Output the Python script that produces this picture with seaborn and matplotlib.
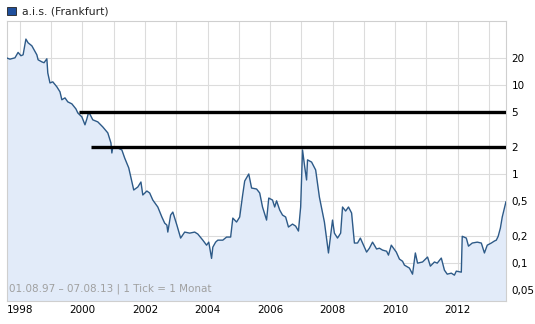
import numpy as np
import pandas as pd
import seaborn as sns
import matplotlib.pyplot as plt
from matplotlib.patches import Patch

dates = [1997.58, 1997.68, 1997.84, 1997.94, 1998.03, 1998.10, 1998.19, 1998.26, 1998.38, 1998.54,
         1998.58, 1998.70, 1998.77, 1998.86, 1998.89, 1998.96, 1999.05, 1999.18, 1999.28, 1999.34,
         1999.44, 1999.53, 1999.66, 1999.79, 1999.85, 1999.98, 2000.08, 2000.14, 2000.20, 2000.33,
         2000.49, 2000.65, 2000.81, 2000.91, 2000.94, 2000.97, 2001.13, 2001.26, 2001.35, 2001.48,
         2001.58, 2001.64, 2001.77, 2001.87, 2001.93, 2002.06, 2002.15, 2002.25, 2002.41, 2002.54,
         2002.63, 2002.70, 2002.73, 2002.82, 2002.89, 2003.02, 2003.14, 2003.27, 2003.43, 2003.59,
         2003.69, 2003.85, 2003.97, 2004.04, 2004.13, 2004.17, 2004.26, 2004.33, 2004.49, 2004.61,
         2004.74, 2004.81, 2004.93, 2005.03, 2005.12, 2005.19, 2005.32, 2005.41, 2005.57, 2005.67,
         2005.76, 2005.89, 2005.96, 2006.08, 2006.15, 2006.21, 2006.31, 2006.40, 2006.50, 2006.59,
         2006.72, 2006.82, 2006.91, 2006.98, 2007.04, 2007.11, 2007.17, 2007.20, 2007.33, 2007.46,
         2007.58, 2007.74, 2007.87, 2008.00, 2008.06, 2008.16, 2008.26, 2008.32, 2008.42, 2008.51,
         2008.61, 2008.70, 2008.80, 2008.89, 2008.96, 2009.09, 2009.18, 2009.28, 2009.41, 2009.50,
         2009.60, 2009.73, 2009.79, 2009.88, 2010.04, 2010.14, 2010.24, 2010.30, 2010.46, 2010.56,
         2010.65, 2010.72, 2010.88, 2011.04, 2011.13, 2011.26, 2011.35, 2011.48, 2011.58, 2011.67,
         2011.80, 2011.90, 2011.96, 2012.12, 2012.15, 2012.28, 2012.35, 2012.47, 2012.63, 2012.76,
         2012.86, 2012.95, 2013.08, 2013.18, 2013.24, 2013.30, 2013.37, 2013.43, 2013.55]
prices = [20.0, 19.4, 20.1, 23.1, 21.2, 21.7, 32.6, 29.6, 27.4, 21.7,
          19.1, 18.1, 17.7, 19.6, 13.6, 10.5, 10.8, 9.5, 8.35, 6.8,
          7.14, 6.44, 6.12, 5.37, 4.84, 4.37, 3.56, 4.15, 4.97, 4.05,
          3.84, 3.37, 2.89, 2.23, 1.72, 2.01, 1.96, 1.86, 1.51, 1.17,
          0.813, 0.661, 0.714, 0.813, 0.581, 0.644, 0.612, 0.510, 0.426, 0.329,
          0.281, 0.267, 0.223, 0.346, 0.374, 0.267, 0.191, 0.223, 0.217, 0.223,
          0.212, 0.181, 0.159, 0.172, 0.113, 0.151, 0.172, 0.181, 0.181, 0.196,
          0.196, 0.320, 0.289, 0.329, 0.566, 0.834, 1.0, 0.696, 0.678, 0.612,
          0.426, 0.304, 0.537, 0.510, 0.426, 0.5, 0.394, 0.346, 0.329, 0.254,
          0.274, 0.260, 0.229, 0.426, 1.86, 1.20, 0.857, 1.44, 1.36, 1.11,
          0.55, 0.289, 0.130, 0.304, 0.217, 0.191, 0.217, 0.426, 0.384, 0.426,
          0.365, 0.168, 0.168, 0.191, 0.168, 0.133, 0.147, 0.172, 0.144, 0.147,
          0.140, 0.136, 0.123, 0.159, 0.133, 0.111, 0.105, 0.095, 0.088, 0.0752,
          0.130, 0.100, 0.103, 0.117, 0.0925, 0.103, 0.100, 0.114, 0.0834, 0.0752,
          0.0772, 0.0733, 0.0813, 0.0792, 0.200, 0.191, 0.155, 0.168, 0.172, 0.168,
          0.130, 0.159, 0.168, 0.177, 0.181, 0.200, 0.247, 0.329, 0.49]

# horizontale Linien (Startjahr, Kursniveau)
level_starts = [1999.88, 2000.27]
level_values = [5, 2]

y_ticks = [0.05, 0.1, 0.2, 0.5, 1, 2, 5, 10, 20]
y_labels = ['0,05', '0,1', '0,2', '0,5', '1', '2', '5', '10', '20']
x_ticks = [1998, 2000, 2002, 2004, 2006, 2008, 2010, 2012]

df = pd.DataFrame({'date': dates, 'price': prices})

sns.set_style("white")
plt.rcParams['font.family'] = ['DejaVu Sans']

fig = plt.figure(figsize=(5.35, 3.24), dpi=100)
ax = fig.add_axes([7 / 535, 23 / 324, 499 / 535, 280 / 324])

x_min, x_max = 1997.585, 2013.55
y_min, y_max = 0.0376, 52

ax.fill_between(df['date'], df['price'], y_min, color='#e2ebf9', zorder=1, linewidth=0)
sns.lineplot(data=df, x='date', y='price', ax=ax, color='#2d5a88', linewidth=1.0, zorder=3)

for start, val in zip(level_starts, level_values):
    ax.hlines(val, start, x_max, color='black', linewidth=2.4, zorder=4)

ax.set_yscale('log')
ax.set_xlim(x_min, x_max)
ax.set_ylim(y_min, y_max)

ax.set_yticks(y_ticks)
ax.set_yticklabels(y_labels)
ax.yaxis.set_minor_locator(plt.NullLocator())
ax.yaxis.tick_right()
ax.set_xticks(x_ticks)
ax.set_xticklabels([str(y) for y in x_ticks])
ax.set_xticks(np.arange(1999, 2014, 2), minor=True)
ax.tick_params(axis='both', which='both', length=0, labelsize=7.5, colors='black')
ax.tick_params(axis='y', pad=4)
ax.tick_params(axis='x', pad=3)

ax.grid(True, which='both', color='#dcdcdc', linewidth=0.8, zorder=0)
ax.set_axisbelow(True)
for s in ax.spines.values():
    s.set_color('#cfcfcf')
    s.set_linewidth(0.8)

ax.set_xlabel('')
ax.set_ylabel('')

ax.text(0.004, 0.025, '01.08.97 \u2013 07.08.13 | 1 Tick = 1 Monat', transform=ax.transAxes,
        fontsize=7.5, color='#a0a0a0', ha='left', va='bottom', zorder=5)

fig.legend(handles=[Patch(facecolor='#1f4f9c', edgecolor='#222222', linewidth=0.6)],
           labels=['a.i.s. (Frankfurt)'], loc='upper left', bbox_to_anchor=(0.0, 1.0),
           frameon=False, fontsize=7.8, handlelength=0.9, handleheight=0.9,
           handletextpad=0.5, borderaxespad=0.2)

fig.savefig('out.png', dpi=100)
